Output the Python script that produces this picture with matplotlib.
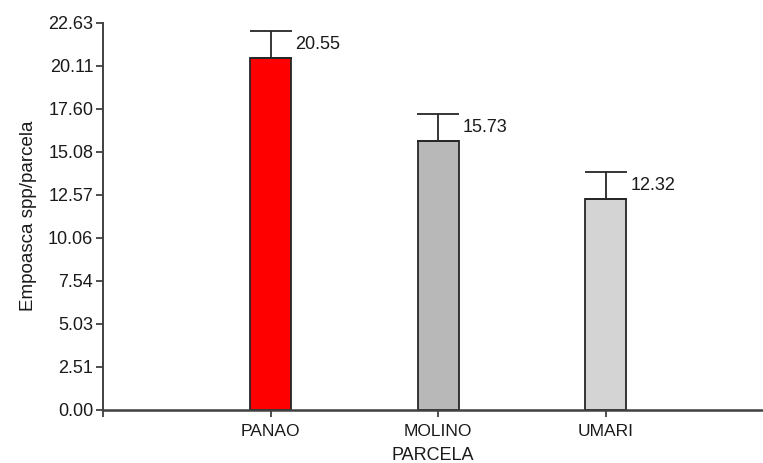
import matplotlib
matplotlib.use("Agg")
import matplotlib.pyplot as plt
import numpy as np

plt.rcParams['font.family'] = ['Liberation Sans', 'DejaVu Sans']

categories = ["PANAO", "MOLINO", "UMARI"]
values = [20.55, 15.73, 12.32]
errors = [1.58, 1.57, 1.58]
colors = ["#FF0000", "#B8B8B8", "#D4D4D4"]
yticks = [0.00, 2.51, 5.03, 7.54, 10.06, 12.57, 15.08, 17.60, 20.11, 22.63]

fig = plt.figure(figsize=(7.63, 4.63), dpi=100)
ax = fig.add_axes([0.135, 0.1153, 0.865, 0.836])

pos = np.arange(1, len(categories) + 1)
width = 0.245
ax.bar(pos, values, width=width, color=colors, edgecolor="#262626", linewidth=1.3, zorder=2)
ax.errorbar(pos, values, yerr=[np.zeros(len(values)), errors], fmt='none',
            ecolor="#262626", elinewidth=1.3, capsize=14.8, capthick=1.3, zorder=3)

for p, v, e in zip(pos, values, errors):
    ax.annotate(f"{v:.2f}", xy=(p + width / 2, v + e / 2), xytext=(3, 0),
                textcoords="offset points", ha="left", va="center",
                fontsize=13, color="#1a1a1a")

ax.set_xlim(0, 3.94)
ax.set_ylim(0, 22.63)
ax.set_yticks(yticks)
ax.set_yticklabels([f"{t:.2f}" for t in yticks])
ax.set_xticks([0] + list(pos))
ax.set_xticklabels([""] + categories)

for s in ["top", "right"]:
    ax.spines[s].set_visible(False)
ax.spines["left"].set_color("#404040")
ax.spines["left"].set_linewidth(1.4)
ax.spines["bottom"].set_color("#404040")
ax.spines["bottom"].set_linewidth(1.8)

ax.tick_params(axis="both", direction="out", length=5, width=1.3, color="#404040",
               labelcolor="#1a1a1a")
ax.tick_params(axis="y", pad=2, labelsize=13)
ax.tick_params(axis="x", pad=5, labelsize=12.5)

ax.set_ylabel("Empoasca spp/parcela", fontsize=13.5, color="#1a1a1a", labelpad=8)
ax.set_xlabel("PARCELA", fontsize=13, color="#1a1a1a", labelpad=6)

fig.savefig("out.png", dpi=100)
